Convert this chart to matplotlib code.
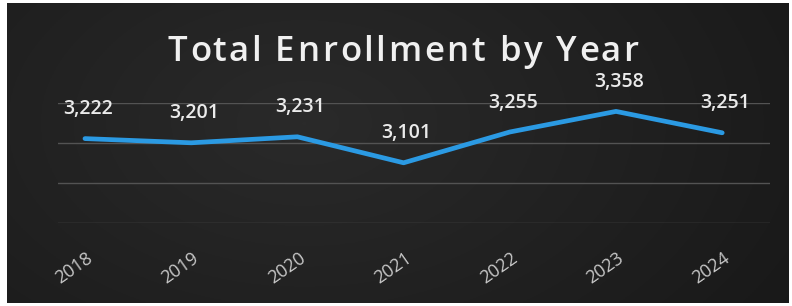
import numpy as np
import matplotlib
matplotlib.use("Agg")
import matplotlib.pyplot as plt
import matplotlib.transforms as mtransforms

years = ["2018", "2019", "2020", "2021", "2022", "2023", "2024"]
enrollment = [3222, 3201, 3231, 3101, 3255, 3358, 3251]
value_labels = ["3,222", "3,201", "3,231", "3,101", "3,255", "3,358", "3,251"]
y_gridlines = [2800, 3000, 3200, 3400]
title = "Total Enrollment by Year"

W, H = 792, 306
fig = plt.figure(figsize=(W / 100, H / 100), dpi=100, facecolor="white")

# dark background panel with gradient
bg = fig.add_axes([7 / W, 3 / H, 782 / W, 300 / H])
bg.set_axis_off()
gx = np.linspace(0, 1, 400)
gy = np.linspace(0, 1, 160)
X, Y = np.meshgrid(gx, gy)
d = np.sqrt(((X - 0.38) / 0.8) ** 2 + ((Y - 0.4) / 1.3) ** 2)
shade = 0.165 - 0.075 * np.clip(d, 0, 1)
img = np.dstack([shade, shade, shade])
bg.imshow(img, aspect="auto", extent=[0, 1, 0, 1], origin="upper")
bg.set_xlim(0, 1)
bg.set_ylim(0, 1)

ax = fig.add_axes([58 / W, 83 / H, 712 / W, 120 / H])
ax.patch.set_alpha(0)
x = np.arange(len(years))
ax.set_xlim(-0.254, 6.45)
ax.set_ylim(2800, 3400)
for g in y_gridlines:
    ax.axhline(g, color="#535353", lw=1.0, zorder=1)
ax.plot(x, enrollment, color="#2b9ae3", lw=3.4, solid_capstyle="round",
        solid_joinstyle="round", zorder=3)
for xi, v, lab in zip(x, enrollment, value_labels):
    ax.annotate(lab, (xi, v), xytext=(2, 14), textcoords="offset points",
                ha="center", va="bottom", color="#ebebeb", fontsize=14,
                family="Open Sans", fontweight="semibold",
                annotation_clip=False)
for s in ax.spines.values():
    s.set_visible(False)
ax.set_yticks([])
ax.set_xticks(x)
ax.set_xticklabels(years, rotation=35, ha="right", va="center",
                   rotation_mode="anchor", color="#c8c8c8", fontsize=13,
                   family="Open Sans")
ax.tick_params(axis="x", length=0, pad=24)
shift = mtransforms.ScaledTranslation(6 / 100, 0, fig.dpi_scale_trans)
for lbl in ax.get_xticklabels():
    lbl.set_transform(lbl.get_transform() + shift)

# title with letter spacing
renderer = fig.canvas.get_renderer()
tprops = dict(color="#f0f0f0", fontsize=25, family="Open Sans",
              fontweight="semibold")


def text_width(s):
    t = fig.text(0, 0, s + "|", **tprops)
    w = t.get_window_extent(renderer).width
    t.remove()
    t2 = fig.text(0, 0, "|", **tprops)
    w2 = t2.get_window_extent(renderer).width
    t2.remove()
    return w - w2


target_w = 470.0
natural = text_width(title)
n = len(title)
spacing = (target_w - natural) / (n - 1)
x0 = 403 - target_w / 2
for i, c in enumerate(title):
    if c == " ":
        continue
    px = x0 + text_width(title[:i]) + i * spacing
    fig.text(px / W, 1 - 48 / H, c, ha="left", va="center_baseline", **tprops)

fig.savefig("out.png", dpi=100, facecolor="white")
